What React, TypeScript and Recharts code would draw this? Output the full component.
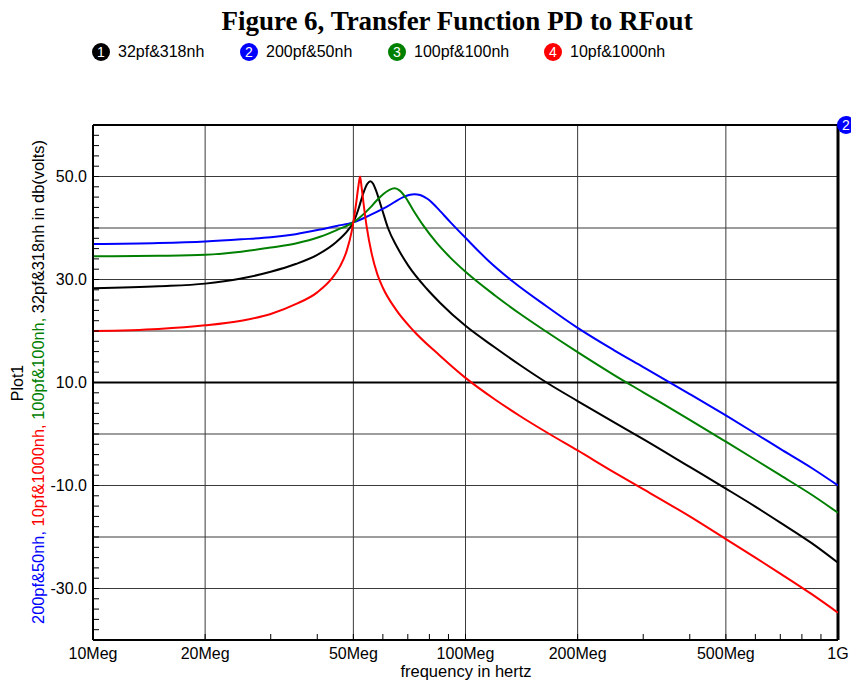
import { LineChart, Line, XAxis, YAxis, ReferenceLine, ReferenceDot } from 'recharts';

// frequency in MHz, value in dB(volts)
const curve32pf318nh: [number, number][] = [
  [10, 28.3], [15, 28.7], [20, 29.2], [25, 30.2], [30, 31.5], [35, 33.0], [40, 34.8], [45, 37.3],
  [48.5, 39.7], [50, 41.1], [51.5, 43.5], [53.2, 46.8], [54.4, 48.5], [55.5, 49.1], [56.5, 48.6],
  [57.5, 47.3], [59.6, 43.8], [62, 39.9], [65.4, 36.4], [70.2, 32.7], [78.7, 28.2], [85.4, 25.5],
  [100, 21.0], [120, 16.8], [140, 13.4], [165, 10.0], [200, 6.4], [250, 2.3], [300, -1.0],
  [400, -6.4], [500, -10.6], [600, -14.1], [700, -17.2], [850, -21.2], [1000, -25.0],
];
const curve200pf50nh: [number, number][] = [
  [10, 36.9], [15, 37.1], [20, 37.4], [25, 37.8], [30, 38.2], [35, 38.8], [40.7, 39.7], [45.1, 40.4],
  [50, 41.1], [55.4, 42.5], [61.4, 44.1], [68.1, 46.0], [70.5, 46.4], [73, 46.55], [75.5, 46.4],
  [78, 45.9], [80, 45.4], [83.7, 44.0], [90.9, 41.2], [100, 38.1], [115, 33.7], [134, 29.6],
  [165, 24.8], [200, 20.6], [250, 16.3], [300, 13.0], [400, 7.75], [500, 3.6], [600, 0.1],
  [700, -2.9], [850, -6.6], [1000, -10.0],
];
const curve100pf100nh: [number, number][] = [
  [10, 34.5], [15, 34.6], [20, 34.8], [25, 35.4], [30, 36.2], [35, 37.0], [40.7, 38.3], [45.1, 39.6],
  [50, 41.1], [55.4, 43.9], [57.5, 45.2], [60.2, 46.6], [62.5, 47.4], [64.5, 47.7], [66.2, 47.4],
  [68.8, 46.1], [72.4, 43.45], [77, 40.5], [83.7, 37.1], [90.9, 34.3], [100, 31.5], [120, 26.9],
  [140, 23.35], [165, 19.85], [200, 15.9], [250, 11.5], [300, 8.1], [400, 2.75], [500, -1.5],
  [600, -5.0], [700, -8.0], [850, -11.8], [1000, -15.3],
];
const curve10pf1000nh: [number, number][] = [
  [10, 20.0], [15, 20.4], [20, 21.1], [25, 22.0], [30, 23.3], [35, 25.2], [40, 27.5], [44, 30.4],
  [46, 32.5], [48, 35.6], [49.5, 39.4], [50.8, 44.5], [51.6, 48.2], [52.1, 50.0], [52.6, 48.0],
  [53.2, 45.0], [54.3, 40.2], [56, 35.0], [58, 31.0], [60, 28.4], [65, 24.2], [72.4, 20.1],
  [85.4, 15.2], [100, 10.9], [120, 6.7], [140, 3.5], [168, 0.0], [200, -3.2], [250, -7.4],
  [300, -10.7], [400, -16.0], [500, -20.4], [600, -24.0], [700, -27.1], [850, -31.1], [1000, -34.7],
];

const freqTicks = [10, 20, 30, 40, 50, 60, 70, 80, 90, 100, 200, 300, 400, 500, 600, 700, 800, 900, 1000];
const freqLabels: Record<number, string> = {
  10: '10Meg', 20: '20Meg', 50: '50Meg', 100: '100Meg', 200: '200Meg', 500: '500Meg', 1000: '1G',
};
const freqGrid = [20, 50, 100, 200, 500];

const dbTicks = [
  -40, -38, -36, -34, -32, -30, -28, -26, -24, -22, -20, -18, -16, -14, -12, -10, -8, -6, -4, -2,
  0, 2, 4, 6, 8, 10, 12, 14, 16, 18, 20, 22, 24, 26, 28, 30, 32, 34, 36, 38, 40, 42, 44, 46, 48,
  50, 52, 54, 56, 58, 60,
];
const dbLabels = [50, 30, 10, -10, -30];
const dbGrid = [-30, -20, -10, 0, 20, 30, 40, 50];

const series = [
  { n: 1, name: '32pf&318nh', color: '#000000', data: curve32pf318nh },
  { n: 2, name: '200pf&50nh', color: '#0000ff', data: curve200pf50nh },
  { n: 3, name: '100pf&100nh', color: '#008000', data: curve100pf100nh },
  { n: 4, name: '10pf&1000nh', color: '#ff0000', data: curve10pf1000nh },
];
const legendX = [101, 249, 397, 553];

const toPoints = (a: [number, number][]) => a.map(([f, db]) => ({ f, db }));

const SANS = '"Liberation Sans", Arial, sans-serif';

function Badge({ n, color, size = 18 }: { n: number; color: string; size?: number }) {
  return (
    <div
      style={{
        width: size, height: size, borderRadius: '50%', background: color, color: '#fff',
        fontSize: 14, lineHeight: `${size}px`, textAlign: 'center', fontFamily: SANS,
      }}
    >
      {n}
    </div>
  );
}

export default function App() {
  return (
    <div style={{ position: 'relative', width: 851, height: 682, background: '#fff', fontFamily: SANS }}>
      <style>{'body{margin:0}'}</style>
      <div
        style={{
          position: 'absolute', left: 457, top: 6, transform: 'translateX(-50%)', whiteSpace: 'nowrap',
          fontFamily: '"Liberation Serif", "Times New Roman", serif', fontWeight: 'bold', fontSize: 27,
        }}
      >
        Figure 6, Transfer Function PD to RFout
      </div>
      {series.map((s, i) => (
        <div
          key={s.name}
          style={{ position: 'absolute', left: legendX[i] - 9, top: 43, display: 'flex', alignItems: 'center', gap: 8 }}
        >
          <Badge n={s.n} color={s.color} />
          <span style={{ fontSize: 16 }}>{s.name}</span>
        </div>
      ))}

      <LineChart width={851} height={682} margin={{ top: 125, right: 13, bottom: 22, left: 43 }}>
        <XAxis
          dataKey="f"
          type="number"
          scale="log"
          domain={[10, 1000]}
          allowDataOverflow
          ticks={freqTicks}
          interval={0}
          height={20}
          tickSize={-6}
          tickMargin={14}
          tickFormatter={(v: number) => freqLabels[v] ?? ''}
          tick={{ fill: '#000', fontSize: 16, fontFamily: SANS }}
          tickLine={{ stroke: '#000' }}
          axisLine={{ stroke: '#000', strokeWidth: 2 }}
        />
        <YAxis
          type="number"
          domain={[-40, 60]}
          allowDataOverflow
          ticks={dbTicks}
          interval={0}
          width={50}
          tickSize={-6}
          tickMargin={12}
          tickFormatter={(v: number) => (dbLabels.includes(v) ? v.toFixed(1) : '')}
          tick={{ fill: '#000', fontSize: 16, fontFamily: SANS }}
          tickLine={{ stroke: '#000' }}
          axisLine={{ stroke: '#000', strokeWidth: 2 }}
        />
        {dbGrid.map((v) => (
          <ReferenceLine key={`h${v}`} y={v} stroke="#3a3a3a" strokeWidth={1} />
        ))}
        {freqGrid.map((v) => (
          <ReferenceLine key={`v${v}`} x={v} stroke="#3a3a3a" strokeWidth={1} />
        ))}
        <ReferenceLine y={10} stroke="#000" strokeWidth={2} />
        <ReferenceLine y={60} stroke="#000" strokeWidth={2} />
        <ReferenceLine x={1000} stroke="#000" strokeWidth={3} />
        {series.map((s) => (
          <Line
            key={s.name}
            data={toPoints(s.data)}
            dataKey="db"
            type="monotone"
            stroke={s.color}
            strokeWidth={2}
            dot={false}
            isAnimationActive={false}
          />
        ))}
        <ReferenceDot
          x={1000}
          y={60}
          r={9}
          ifOverflow="visible"
          shape={(p: { cx: number; cy: number }) => (
            <g>
              <circle cx={p.cx + 8} cy={p.cy} r={9} fill="#0000ff" />
              <text x={p.cx + 8} y={p.cy + 5} textAnchor="middle" fill="#fff" fontSize={14} fontFamily={SANS}>
                2
              </text>
            </g>
          )}
        />
      </LineChart>

      <div
        style={{
          position: 'absolute', left: 38, top: 382, transform: 'translate(-50%, -50%) rotate(-90deg)',
          whiteSpace: 'nowrap', fontSize: 16.4,
        }}
      >
        <span style={{ color: '#0000ff' }}>200pf&amp;50nh, </span>
        <span style={{ color: '#ff0000' }}>10pf&amp;1000nh, </span>
        <span style={{ color: '#008000' }}>100pf&amp;100nh, </span>
        <span style={{ color: '#000' }}>32pf&amp;318nh in db(volts)</span>
      </div>
      <div
        style={{
          position: 'absolute', left: 18, top: 383, transform: 'translate(-50%, -50%) rotate(-90deg)',
          whiteSpace: 'nowrap', fontSize: 16,
        }}
      >
        Plot1
      </div>
      <div
        style={{
          position: 'absolute', left: 466, top: 671, transform: 'translate(-50%, -50%)',
          whiteSpace: 'nowrap', fontSize: 16.5,
        }}
      >
        frequency in hertz
      </div>
    </div>
  );
}
